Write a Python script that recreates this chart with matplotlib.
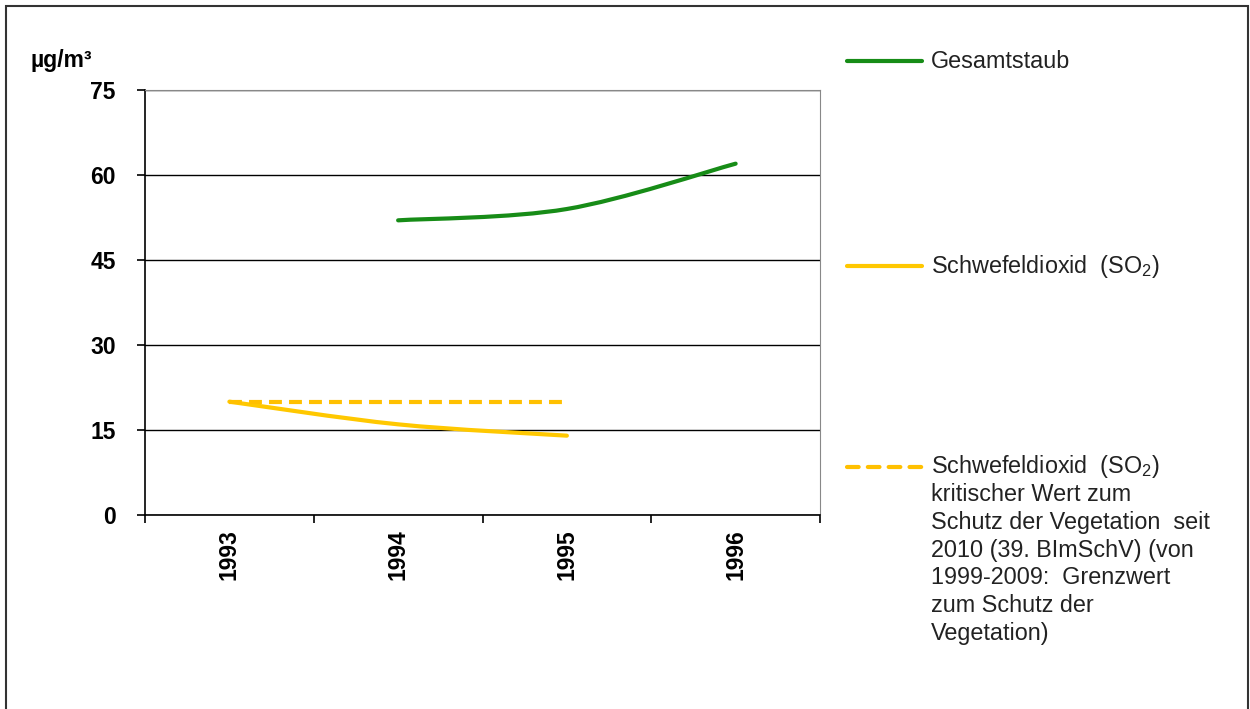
import numpy as np
import matplotlib.pyplot as plt
from matplotlib.path import Path
from matplotlib.patches import PathPatch, Rectangle
from matplotlib.lines import Line2D

plt.rcParams['font.family'] = ['Liberation Sans', 'DejaVu Sans']
plt.rcParams['mathtext.fontset'] = 'custom'
plt.rcParams['mathtext.rm'] = 'Liberation Sans'

# data
years = ['1993', '1994', '1995', '1996']
staub_x = [1, 2, 3]
staub = [52, 54, 62]
so2_x = [0, 1, 2]
so2 = [20, 16, 14]
limit_x = [0, 1, 2]
limit = [20, 20, 20]

green = '#178c17'
yellow = '#ffc800'
orange = '#ffc000'


def smooth_path(x, y):
    # Excel-like smoothed line (cubic Bezier through the points)
    p = np.column_stack([x, y]).astype(float)
    verts = [p[0]]
    codes = [Path.MOVETO]
    n = len(p)
    for i in range(n - 1):
        pm = p[i - 1] if i > 0 else p[i]
        pn = p[i + 2] if i + 2 < n else p[i + 1]
        c1 = p[i] + (p[i + 1] - pm) / 6
        c2 = p[i + 1] - (pn - p[i]) / 6
        verts += [c1, c2, p[i + 1]]
        codes += [Path.CURVE4] * 3
    return Path(verts, codes)


W, H = 1250, 709
fig = plt.figure(figsize=(W / 100, H / 100), dpi=100)


def fx(x):
    return x / W


def fy(y):
    return 1 - y / H


ax = fig.add_axes([fx(145), fy(515), fx(820) - fx(145), fy(90) - fy(515)])

ax.add_patch(PathPatch(smooth_path(staub_x, staub), fill=False, ec=green, lw=3, capstyle='round'))
ax.add_patch(PathPatch(smooth_path(so2_x, so2), fill=False, ec=yellow, lw=3, capstyle='round'))
ax.plot(limit_x, limit, color=orange, lw=3, ls=(0, (3.1, 1.7)))

ax.set_xlim(-0.5, 3.5)
ax.set_ylim(0, 75)
ax.set_yticks(np.arange(0, 76, 15))
ax.yaxis.grid(True, color='black', lw=1)
ax.set_axisbelow(True)

ax.set_xticks(np.arange(-0.5, 3.6, 1))
ax.set_xticklabels([])
ax.set_xticks(range(len(years)), minor=True)
ax.set_xticklabels(years, minor=True, rotation=90, fontsize=16.5, fontweight='bold')
ax.tick_params(axis='x', which='minor', length=0, pad=10)
ax.tick_params(axis='x', which='major', length=6, width=1.2, direction='out')
ax.tick_params(axis='y', length=6, width=1.2, direction='out', pad=15, labelsize=16.5)
for lab in ax.get_yticklabels():
    lab.set_fontweight('bold')

ax.spines['left'].set_color('black')
ax.spines['bottom'].set_color('black')
ax.spines['left'].set_linewidth(1.2)
ax.spines['bottom'].set_linewidth(1.2)
ax.spines['top'].set_color('#888888')
ax.spines['right'].set_color('#888888')

fig.text(fx(30), fy(60), 'µg/m³', fontsize=16.5, fontweight='bold', va='center', ha='left')

# legend
def key(y, **kw):
    fig.add_artist(Line2D([fx(847), fx(922)], [fy(y), fy(y)], lw=3,
                          solid_capstyle='round', dash_capstyle='round', **kw))

fs = 16.8
key(61, color=green)
fig.text(fx(931), fy(61), 'Gesamtstaub', fontsize=fs, va='center', color='#222222')
key(266, color=yellow)
fig.text(fx(931), fy(266), r'Schwefeldioxid  (SO$_2$)', fontsize=fs, va='center', color='#222222')
key(467, color=orange, ls=(0, (2.8, 2.2)))
lines = [r'Schwefeldioxid  (SO$_2$)', 'kritischer Wert zum', 'Schutz der Vegetation  seit',
         '2010 (39. BImSchV) (von', '1999-2009:  Grenzwert', 'zum Schutz der', 'Vegetation)']
for i, t in enumerate(lines):
    fig.text(fx(931), fy(467 + i * 27.7), t, fontsize=fs, va='center', color='#222222')

# outer frame
fig.add_artist(Rectangle((fx(6), fy(720)), fx(1248) - fx(6), fy(6) - fy(720),
                         fill=False, ec='#333333', lw=1.5, transform=fig.transFigure))

fig.savefig('out.png', dpi=100)
